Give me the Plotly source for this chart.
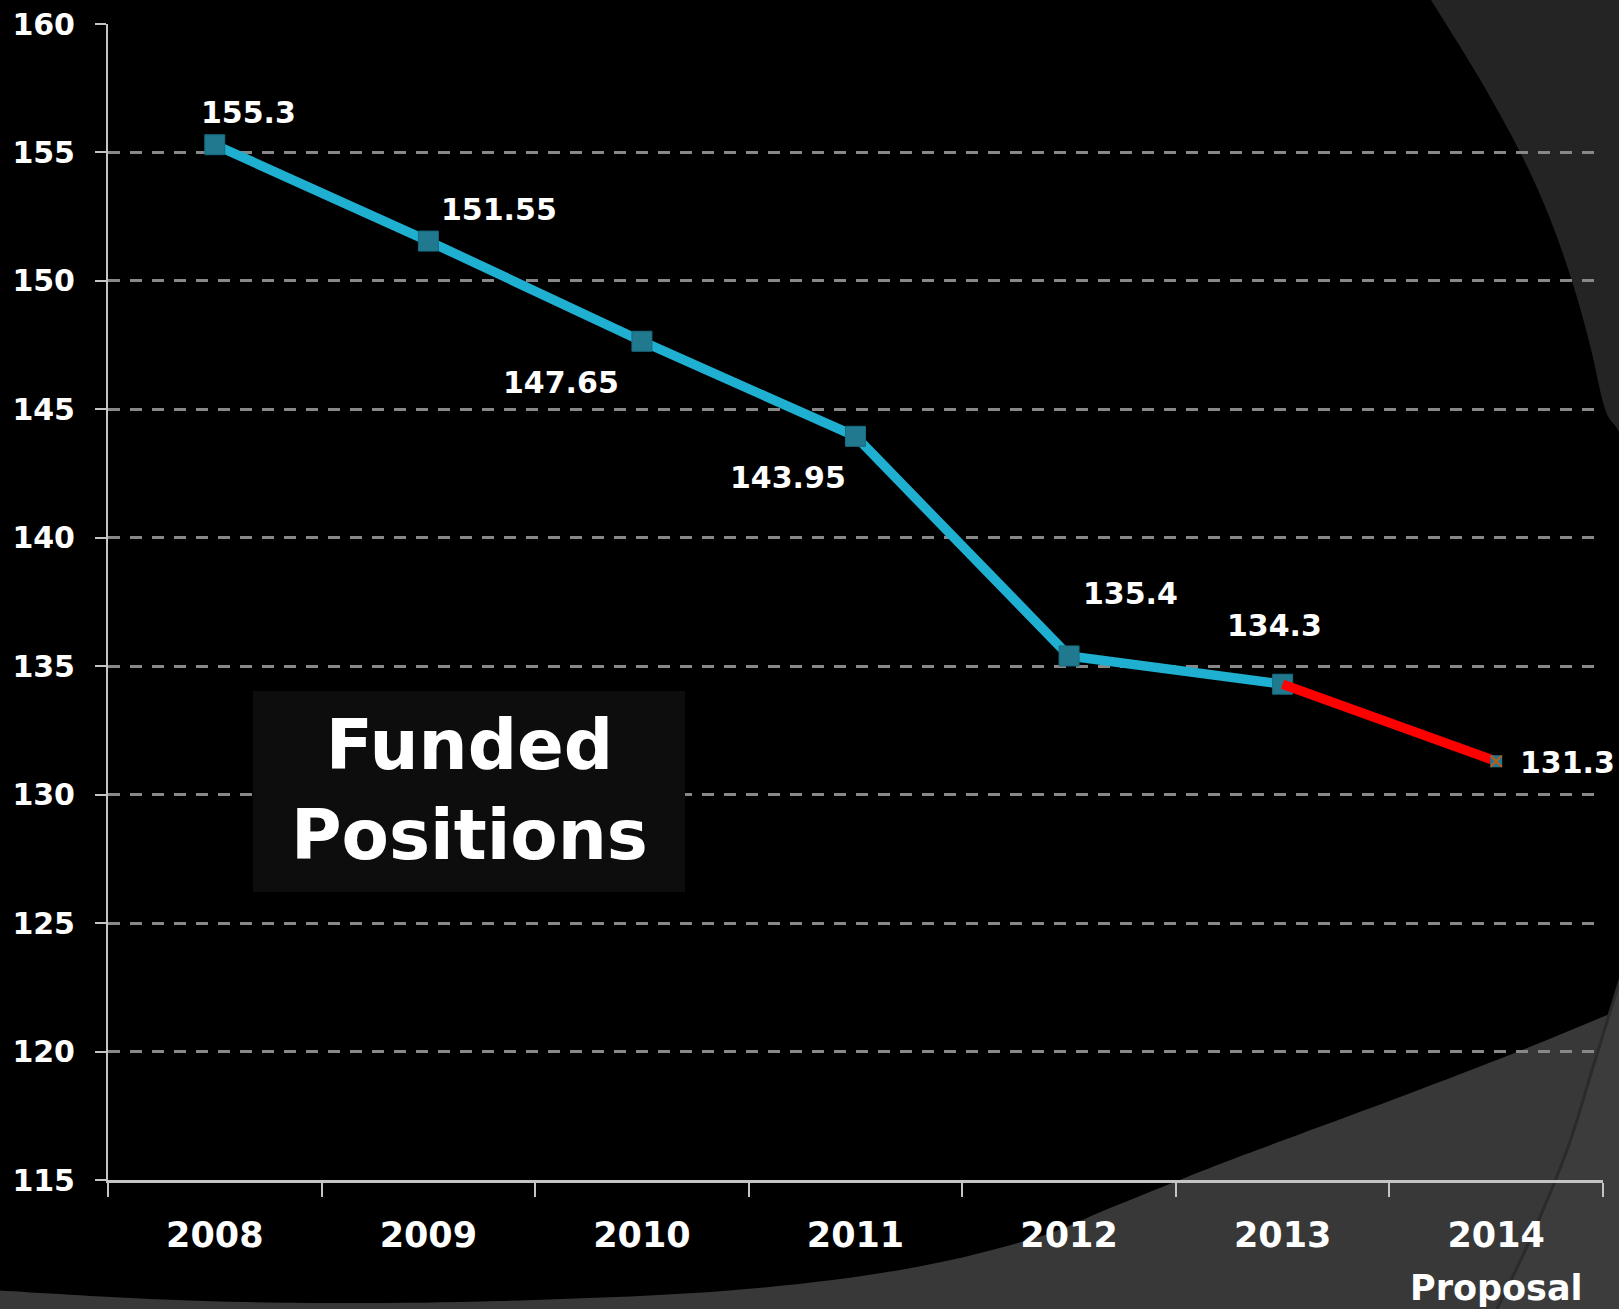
import plotly.graph_objects as go

# ---- data ----
years = ["2008", "2009", "2010", "2011", "2012", "2013", "2014"]
positions = [155.3, 151.55, 147.65, 143.95, 135.4, 134.3, 131.3]
label_text = ["155.3", "151.55", "147.65", "143.95", "135.4", "134.3", "131.3"]
y_ticks = [115, 120, 125, 130, 135, 140, 145, 150, 155, 160]
proposal_note = "Proposal"
box_title = "Funded<br>Positions"

# ---- geometry helpers (pixel -> paper) ----
W, H = 1619, 1309
ML, MR, MT, MB = 108, 16, 24, 129
PW, PH = W - ML - MR, H - MT - MB


def px(x):
    return (x - ML) / PW


def py(y):
    return (H - MB - y) / PH


def fmt(p):
    return "{:.5f} {:.5f}".format(px(p[0]), py(p[1]))


def smooth_path(curve, closing):
    """Catmull-Rom smoothed curve through `curve`, closed by straight `closing` points."""
    s = "M " + fmt(curve[0])
    n = len(curve)
    for i in range(n - 1):
        p0 = curve[i - 1] if i > 0 else curve[i]
        p1, p2 = curve[i], curve[i + 1]
        p3 = curve[i + 2] if i + 2 < n else curve[i + 1]
        c1 = (p1[0] + (p2[0] - p0[0]) / 6, p1[1] + (p2[1] - p0[1]) / 6)
        c2 = (p2[0] - (p3[0] - p1[0]) / 6, p2[1] - (p3[1] - p1[1]) / 6)
        s += " C " + fmt(c1) + ", " + fmt(c2) + ", " + fmt(p2)
    for p in closing:
        s += " L " + fmt(p)
    return s + " Z"


FONT = "DejaVu Sans"
WHITE = "#FFFFFF"

fig = go.Figure()

# blue main series 2008-2013
fig.add_trace(go.Scatter(
    x=years[:6], y=positions[:6], mode="lines+markers",
    line=dict(color="#1FAFD0", width=9.5),
    marker=dict(symbol="square", size=20, color="#21798F",
                line=dict(color="#1A6C80", width=1)),
    hoverinfo="skip", showlegend=False, cliponaxis=False,
))
# red proposal segment
fig.add_trace(go.Scatter(
    x=years[5:], y=positions[5:], mode="lines",
    line=dict(color="#FF0000", width=9.5),
    hoverinfo="skip", showlegend=False, cliponaxis=False,
))
# 2014 marker
fig.add_trace(go.Scatter(
    x=years[6:], y=positions[6:], mode="markers",
    marker=dict(symbol="square", size=12, color="#21798F",
                line=dict(color="#21798F", width=0)),
    hoverinfo="skip", showlegend=False, cliponaxis=False,
))
fig.add_trace(go.Scatter(
    x=years[6:], y=positions[6:], mode="markers",
    marker=dict(symbol="x-thin", size=11,
                line=dict(color="#C55A11", width=2)),
    hoverinfo="skip", showlegend=False, cliponaxis=False,
))

# data labels (manually placed as in the original)
offsets = [(34, -32), (71, -32), (-81, 41), (-68, 41), (61, -62), (-8, -59), (71, 1)]
for i, (v, t, (dx, dy)) in enumerate(zip(positions, label_text, offsets)):
    fig.add_annotation(
        x=i, y=v, xref="x", yref="y", text=t, showarrow=False,
        xanchor="center", yanchor="middle",
        xshift=dx, yshift=-dy,
        font=dict(family=FONT, size=30, color=WHITE, weight="bold"),
    )

# "Proposal" under 2014
fig.add_annotation(
    x=len(years) - 1, xref="x", y=py(1288), yref="paper", text=proposal_note,
    showarrow=False, xanchor="center", yanchor="middle",
    font=dict(family=FONT, size=35, color=WHITE, weight="bold"),
)

# Funded Positions box text
fig.add_annotation(
    x=px(469), y=py(790), xref="paper", yref="paper", text=box_title,
    showarrow=False, xanchor="center", yanchor="middle",
    font=dict(family=FONT, size=69, color=WHITE, weight="bold"),
)

shapes = [
    # upper-right dark swoosh
    dict(type="path", xref="paper", yref="paper", layer="below",
         path=smooth_path([(1422, -15), (1431, 0), (1478, 76), (1520, 152), (1549, 216),
                           (1572, 281), (1590, 345), (1605, 409), (1619, 432), (1632, 470)],
                          [(1700, 470), (1700, -15)]),
         fillcolor="#242424", line=dict(width=0)),
    # bottom gray swoosh
    dict(type="path", xref="paper", yref="paper", layer="below",
         path=smooth_path([(-10, 1290), (150, 1299), (310, 1303), (500, 1301),
                           (723, 1291), (900, 1270), (1032, 1239), (1110, 1208),
                           (1187, 1177), (1257, 1150), (1400, 1097), (1517, 1052),
                           (1619, 1010), (1700, 975)],
                          [(1700, 1400), (-10, 1400)]),
         fillcolor="#383838", line=dict(width=0)),
    # lower-right swoosh
    dict(type="path", xref="paper", yref="paper", layer="below",
         path=smooth_path([(1630, 950), (1619, 983), (1593, 1067), (1567, 1150),
                           (1530, 1240), (1497, 1309), (1488, 1335)],
                          [(1700, 1335), (1700, 950)]),
         fillcolor="#3C3C3C", line=dict(color="#2B2B2B", width=3)),
    # Funded Positions box
    dict(type="rect", xref="paper", yref="paper", layer="above",
         x0=px(253), x1=px(685), y0=py(892), y1=py(691),
         fillcolor="#0D0D0D", line=dict(width=0)),
]

fig.update_layout(
    width=W, height=H,
    margin=dict(l=ML, r=MR, t=MT, b=MB, pad=0, autoexpand=False),
    paper_bgcolor="#000000", plot_bgcolor="rgba(0,0,0,0)",
    shapes=shapes, showlegend=False,
    font=dict(family=FONT, color=WHITE),
    xaxis=dict(
        type="category", categoryorder="array", categoryarray=years,
        range=[-0.5, 6.5], showgrid=False, zeroline=False, automargin=False,
        showline=True, linecolor="#C4C4C4", linewidth=2.5,
        ticks="outside", ticklen=14, tickwidth=2, tickcolor="#C4C4C4",
        tickson="boundaries", ticklabelstandoff=22,
        tickfont=dict(family=FONT, size=35, color=WHITE, weight="bold"),
    ),
    yaxis=dict(
        range=[115, 160], tickvals=y_ticks, zeroline=False, automargin=False,
        showgrid=True, gridcolor="#888888", gridwidth=3, griddash="12px,10px",
        showline=True, linecolor="#C4C4C4", linewidth=2,
        ticks="outside", ticklen=11, tickwidth=2, tickcolor="#C4C4C4",
        ticklabelstandoff=14,
        tickfont=dict(family=FONT, size=30, color=WHITE, weight="bold"),
    ),
)

fig.write_html("out.html", config={"displayModeBar": False},
               post_script="document.body.style.margin='0';document.body.style.overflow='hidden';")
